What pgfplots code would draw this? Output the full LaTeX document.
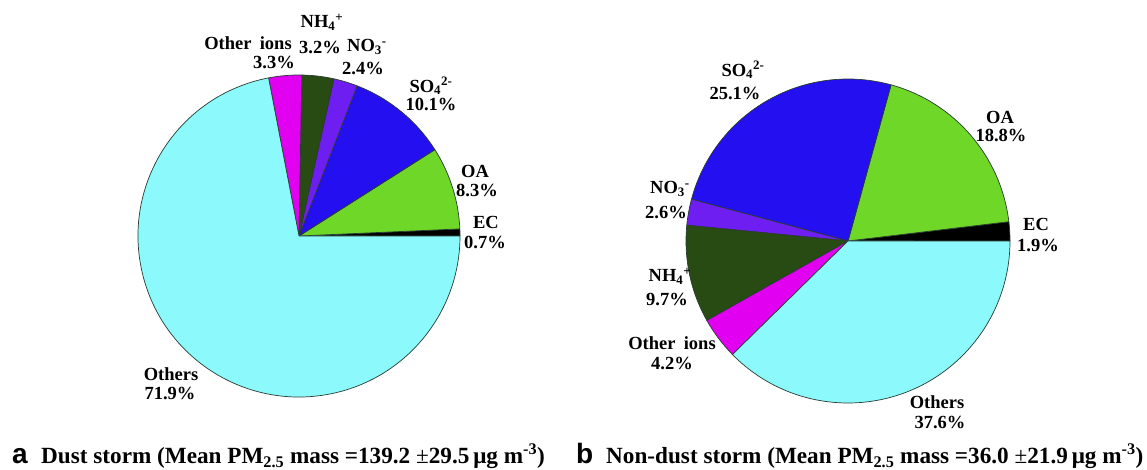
\documentclass[border=0pt]{standalone}
\usepackage{fontspec}
\setmainfont{Liberation Serif}
\newfontfamily\panelfont{Liberation Sans}
\usepackage{pgfplots}
\usepackage{pgfplotstable}
\pgfplotsset{compat=1.18}

% slice colours
\definecolor{cEC}{RGB}{0,0,0}
\definecolor{cOA}{RGB}{110,215,40}
\definecolor{cSO}{RGB}{35,15,240}
\definecolor{cNO}{RGB}{110,30,240}
\definecolor{cNH}{RGB}{40,75,20}
\definecolor{cOI}{RGB}{225,0,240}
\definecolor{cOT}{RGB}{140,250,252}
\definecolor{pieedge}{RGB}{40,60,50}

% PM2.5 composition (%), slices run counter-clockwise from 0 deg
\pgfplotstableread{
species value color
EC 0.7 cEC
OA 8.3 cOA
SO4 10.1 cSO
NO3 2.4 cNO
NH4 3.2 cNH
OtherIons 3.3 cOI
Others 71.9 cOT
}\dusttable

\pgfplotstableread{
species value color
EC 1.9 cEC
OA 18.8 cOA
SO4 25.1 cSO
NO3 2.6 cNO
NH4 9.7 cNH
OtherIons 4.2 cOI
Others 37.6 cOT
}\nondusttable

% \piechart{table}{centre x}{centre y}{radius}
\newcommand\piechart[4]{%
  \pgfplotstablegetrowsof{#1}%
  \pgfmathtruncatemacro\pielast{\pgfplotsretval-1}%
  \def\pietotal{0}%
  \pgfplotsforeachungrouped \k in {0,...,\pielast}{%
    \pgfplotstablegetelem{\k}{value}\of{#1}%
    \pgfmathsetmacro\pietotal{\pietotal+\pgfplotsretval}}%
  \def\piestart{0}%
  \pgfplotsforeachungrouped \k in {0,...,\pielast}{%
    \pgfplotstablegetelem{\k}{value}\of{#1}%
    \pgfmathsetmacro\pieend{\piestart+\pgfplotsretval/\pietotal*360}%
    \pgfplotstablegetelem{\k}{color}\of{#1}%
    \edef\piecolor{\pgfplotsretval}%
    \edef\piecmd{\noexpand\filldraw[fill=\piecolor,draw=pieedge,line width=0.7pt,line join=round]
      (axis cs:#2,#3) -- ++(\piestart:#4pt)
      arc[start angle=\piestart,end angle=\pieend,radius=#4pt] -- cycle;}%
    \piecmd
    \let\piestart\pieend}%
}

\tikzset{
  lbl/.style={inner sep=0pt, align=center, font=\fontsize{18.5}{20}\selectfont\bfseries},
  captext/.style={inner sep=0pt, anchor=base west, font=\fontsize{23.2}{26}\selectfont\bfseries},
  panel/.style={inner sep=0pt, anchor=base west, font=\panelfont\fontsize{28}{30}\selectfont\bfseries},
}

\begin{document}
\begin{tikzpicture}
\begin{axis}[
  x=1pt, y=1pt,
  xmin=0, xmax=1147, ymin=0, ymax=470,
  hide axis, clip=false,
]
\path (axis cs:0,0) rectangle (axis cs:1147,470);

% (a) dust storm
\piechart{\dusttable}{299}{234}{161}
\node[lbl] at (axis cs:248,427) {Other\hspace{0.45em}ions};
\node[lbl] at (axis cs:274,408) {3.3\%};
\node[lbl] at (axis cs:322,448) {NH\textsubscript{4}\textsuperscript{+}};
\node[lbl] at (axis cs:320,423) {3.2\%};
\node[lbl] at (axis cs:367,423) {NO\textsubscript{3}\textsuperscript{-}};
\node[lbl] at (axis cs:363,402) {2.4\%};
\node[lbl] at (axis cs:431,384) {SO\textsubscript{4}\textsuperscript{2-}};
\node[lbl] at (axis cs:431,366) {10.1\%};
\node[lbl] at (axis cs:475,299) {OA};
\node[lbl] at (axis cs:477,280) {8.3\%};
\node[lbl] at (axis cs:486,248) {EC};
\node[lbl] at (axis cs:485,228) {0.7\%};
\node[lbl] at (axis cs:171,96) {Others};
\node[lbl] at (axis cs:170,77) {71.9\%};

% (b) non-dust storm
\piechart{\nondusttable}{848}{229}{162}
\node[lbl] at (axis cs:743,400) {SO\textsubscript{4}\textsuperscript{2-}};
\node[lbl] at (axis cs:735,377) {25.1\%};
\node[lbl] at (axis cs:1000,353) {OA};
\node[lbl] at (axis cs:1001,335) {18.8\%};
\node[lbl] at (axis cs:1036,246) {EC};
\node[lbl] at (axis cs:1038,225) {1.9\%};
\node[lbl] at (axis cs:670,281) {NO\textsubscript{3}\textsuperscript{-}};
\node[lbl] at (axis cs:666,258) {2.6\%};
\node[lbl] at (axis cs:670,194) {NH\textsubscript{4}\textsuperscript{+}};
\node[lbl] at (axis cs:667,171) {9.7\%};
\node[lbl] at (axis cs:672,127) {Other\hspace{0.45em}ions};
\node[lbl] at (axis cs:672,107) {4.2\%};
\node[lbl] at (axis cs:937,68) {Others};
\node[lbl] at (axis cs:940,48) {37.6\%};

% panel captions
\node[panel] at (axis cs:12,6) {a};
\node[captext] at (axis cs:41,6)
  {Dust storm (Mean PM\textsubscript{2.5} mass =139.2 {\mdseries ±}29.5\,μg m\textsuperscript{-3})};
\node[panel] at (axis cs:576,6) {b};
\node[captext] at (axis cs:606,6)
  {Non-dust storm (Mean PM\textsubscript{2.5} mass =36.0 {\mdseries ±}21.9\,μg m\textsuperscript{-3})};
\end{axis}
\end{tikzpicture}
\end{document}
